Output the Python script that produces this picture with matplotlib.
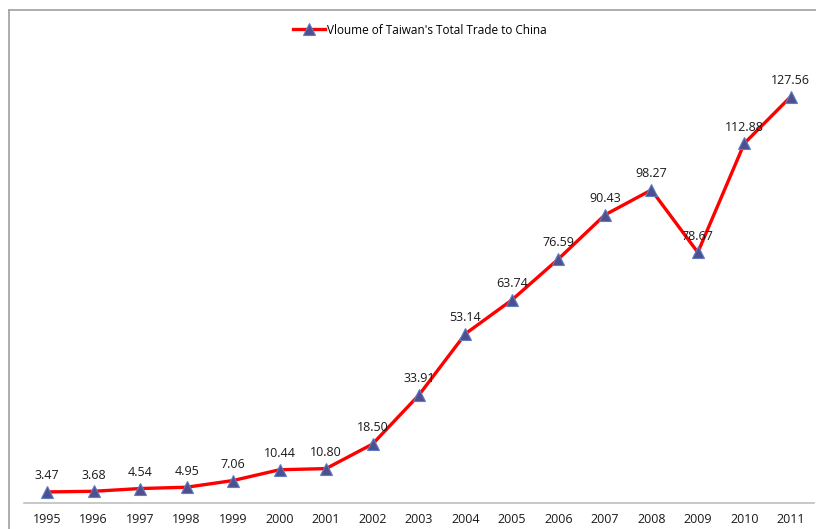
import numpy as np
import matplotlib.pyplot as plt
from matplotlib.lines import Line2D

# data
years = ['1995', '1996', '1997', '1998', '1999', '2000', '2001', '2002', '2003',
         '2004', '2005', '2006', '2007', '2008', '2009', '2010', '2011']
trade = [3.47, 3.68, 4.54, 4.95, 7.06, 10.44, 10.80, 18.50, 33.91,
         53.14, 63.74, 76.59, 90.43, 98.27, 78.67, 112.88, 127.56]
series_name = "Vloume of Taiwan's Total Trade to China"

plt.rcParams['font.family'] = ['Open Sans', 'DejaVu Sans']

W, H = 816, 529
fig = plt.figure(figsize=(W / 100, H / 100), dpi=100)
ax = fig.add_axes([24 / W, 26 / H, (814 - 24) / W, (503 - 57) / H])

x = np.arange(len(years))
ax.plot(x, trade, color='#ff0000', lw=2.4, marker='^', markersize=8,
        markerfacecolor='#4f4f8f', markeredgecolor='#5b7fc4', markeredgewidth=0.8,
        label=series_name, zorder=3)

for xi, v in zip(x, trade):
    ax.annotate(f'{v:.2f}', (xi, v), xytext=(0, 7), textcoords='offset points',
                ha='center', va='bottom', fontsize=9, color='#1a1a1a')

ax.set_xlim(-0.5, len(years) - 0.5)
ax.set_ylim(0, 140)
ax.set_xticks(x)
ax.set_xticklabels(years, fontsize=9, color='#1a1a1a')
ax.tick_params(axis='x', length=0, pad=7)
ax.set_yticks([])
for s in ['left', 'right', 'top']:
    ax.spines[s].set_visible(False)
ax.spines['bottom'].set_color('#bfbfbf')
ax.spines['bottom'].set_linewidth(1.2)

fig.legend(loc='center', bbox_to_anchor=(420 / W, 1 - 30 / H), frameon=False,
           fontsize=8.5, handlelength=2.7, handletextpad=0.2)

# chart border (top and left edges visible)
fig.add_artist(Line2D([9 / W, 1], [1 - 10 / H, 1 - 10 / H], color='#a0a0a0', lw=1.2))
fig.add_artist(Line2D([9 / W, 9 / W], [0, 1 - 10 / H], color='#a0a0a0', lw=1.2))

fig.savefig('out.png', dpi=100)
